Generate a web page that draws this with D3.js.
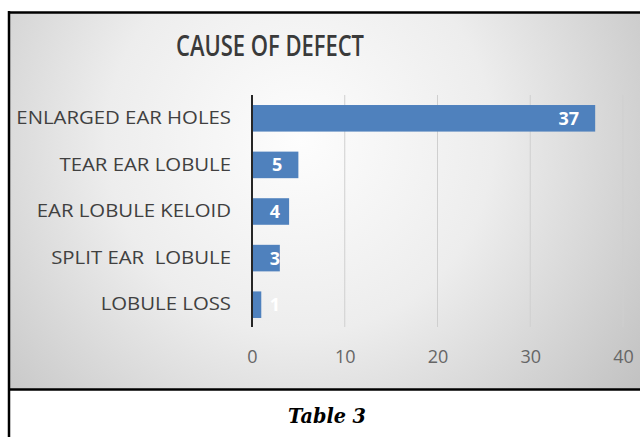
<!DOCTYPE html>
<html><head><meta charset="utf-8">
<script src="https://cdn.jsdelivr.net/npm/d3@7/dist/d3.min.js"></script>
<style>html,body{margin:0;padding:0;background:#fff;}svg{display:block;}</style>
</head><body>
<script>
const categories = ["ENLARGED EAR HOLES","TEAR EAR LOBULE","EAR LOBULE KELOID","SPLIT EAR  LOBULE","LOBULE LOSS"];
const values = [37,5,4,3,1];
const xTicks = [0,10,20,30,40];
const title = "CAUSE OF DEFECT";
const caption = "Table 3";

const W = 640, H = 437;
const svg = d3.select("body").append("svg").attr("width", W).attr("height", H);
const defs = svg.append("defs");
const rg = defs.append("radialGradient").attr("id","bg")
  .attr("gradientUnits","userSpaceOnUse").attr("cx",300).attr("cy",140).attr("r",430);
rg.append("stop").attr("offset","0%").attr("stop-color","#fdfdfd");
rg.append("stop").attr("offset","45%").attr("stop-color","#ededed");
rg.append("stop").attr("offset","100%").attr("stop-color","#c0c0c0");

svg.append("rect").attr("x",10).attr("y",13).attr("width",630).attr("height",376).attr("fill","url(#bg)");
svg.append("line").attr("x1",8).attr("x2",640).attr("y1",12.5).attr("y2",12.5).attr("stroke","#000").attr("stroke-width",2.5);
svg.append("line").attr("x1",9).attr("x2",9).attr("y1",11).attr("y2",H).attr("stroke","#000").attr("stroke-width",2.5);
svg.append("line").attr("x1",8).attr("x2",640).attr("y1",389.5).attr("y2",389.5).attr("stroke","#000").attr("stroke-width",2.5);

const x = d3.scaleLinear().domain([0,40]).range([252,623]);
const y = d3.scaleBand().domain(categories).range([95,328]).paddingInner(0.43).paddingOuter(0.215);

svg.append("g").selectAll("line").data(xTicks.filter(d=>d>0)).join("line")
  .attr("x1",d=>x(d)).attr("x2",d=>x(d)).attr("y1",95).attr("y2",327)
  .attr("stroke","#cfcfcf").attr("stroke-width",1);

svg.append("g").selectAll("rect").data(values).join("rect")
  .attr("x",x(0)).attr("y",(d,i)=>y(categories[i]))
  .attr("width",d=>x(d)-x(0)).attr("height",y.bandwidth())
  .attr("fill","#4f81bd");

svg.append("line").attr("x1",x(0)).attr("x2",x(0)).attr("y1",95).attr("y2",327)
  .attr("stroke","#262626").attr("stroke-width",2);

const xAxis = d3.axisBottom(x).tickValues(xTicks).tickSize(0).tickPadding(0);
const gx = svg.append("g").attr("transform","translate(0,350)").call(xAxis);
gx.select(".domain").remove();
gx.selectAll("text").attr("font-family","'Open Sans', Lato, sans-serif").attr("font-size",18)
  .attr("fill","#666").attr("dy","0.71em").attr("y",0);

const yAxis = d3.axisLeft(y).tickSize(0).tickPadding(0);
const gy = svg.append("g").attr("transform","translate(231,0)").call(yAxis);
gy.select(".domain").remove();
gy.selectAll("text").attr("font-family","'Open Sans', Lato, sans-serif").attr("font-size",18)
  .attr("fill","#404040").style("white-space","pre");
gy.selectAll("text").each(function(){
  const w = this.getComputedTextLength();
  d3.select(this).attr("textLength", w*1.13).attr("lengthAdjust","spacingAndGlyphs");
});

svg.append("g").selectAll("text").data(values).join("text")
  .attr("x",d=>Math.max(x(d)-16, x(0)+28))
  .attr("y",(d,i)=>y(categories[i])+y.bandwidth()/2)
  .attr("dy","0.36em").attr("text-anchor","end")
  .attr("font-family","'Open Sans', Lato, sans-serif").attr("font-weight","bold").attr("font-size",18)
  .attr("fill","#fff").text(d=>d);

svg.append("text").attr("x",270).attr("y",56).attr("text-anchor","middle")
  .attr("font-family","'Open Sans', Lato, sans-serif").attr("font-weight",600).attr("font-size",28)
  .attr("fill","#3a3a3a").text(title)
  .attr("textLength",188).attr("lengthAdjust","spacingAndGlyphs");

svg.append("text").attr("x",327).attr("y",423).attr("text-anchor","middle")
  .attr("font-family","'DejaVu Serif', 'Liberation Serif', serif").attr("font-weight","bold").attr("font-style","italic")
  .attr("font-size",21).attr("fill","#000").text(caption)
  .attr("textLength",78).attr("lengthAdjust","spacingAndGlyphs");
</script>
</body></html>
